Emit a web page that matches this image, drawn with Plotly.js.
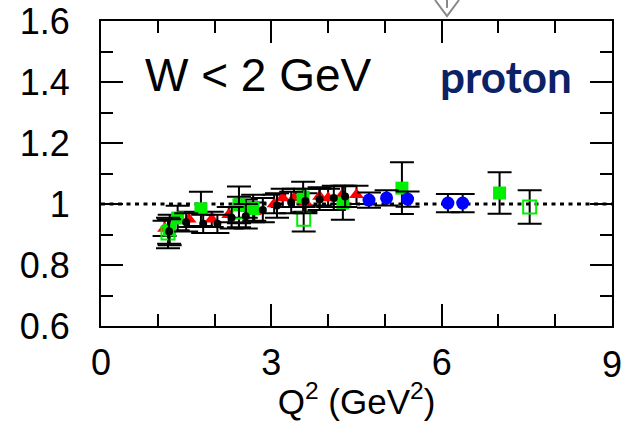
<!DOCTYPE html>
<html>
<head>
<meta charset="utf-8">
<script src="https://cdn.plot.ly/plotly-3.0.1.min.js"></script>
<style>
  html, body { margin: 0; padding: 0; background: #fff; }
  #chart { width: 621px; height: 421px; }
</style>
</head>
<body>
<div id="chart"></div>
<script>
// Ratio vs Q^2 for the proton, W < 2 GeV, several data sets

// Black points
const blackQ2  = [1.2, 1.5, 1.8, 2.05, 2.3, 2.55, 2.85, 3.1, 3.35, 3.6, 3.85, 4.1, 4.3];
const blackR   = [0.91, 0.94, 0.935, 0.935, 0.955, 0.96, 0.98, 0.995, 1.005, 1.01, 1.015, 1.02, 1.025];
const blackErr = [0.04, 0.03, 0.03, 0.03, 0.035, 0.04, 0.04, 0.04, 0.035, 0.04, 0.035, 0.04, 0.035];

// Red triangles
const redQ2  = [1.12, 1.55, 1.95, 2.25, 2.55, 2.7, 3.05, 3.2, 3.4, 3.6, 3.85, 4.0, 4.25, 4.5];
const redR   = [0.92, 0.95, 0.95, 0.965, 0.985, 0.975, 1.0, 1.02, 1.02, 1.005, 1.025, 1.02, 1.03, 1.03];
const redErr = [0.025, 0.025, 0.025, 0.025, 0.03, 0.03, 0.03, 0.03, 0.03, 0.03, 0.03, 0.03, 0.03, 0.03];

// Green filled squares
const greenQ2  = [1.21, 1.35, 1.76, 2.43, 2.68, 3.56, 4.26, 5.3, 7.02];
const greenR   = [0.915, 0.954, 0.984, 0.997, 0.985, 1.023, 1.003, 1.052, 1.036];
const greenErr = [0.05, 0.04, 0.056, 0.06, 0.045, 0.05, 0.055, 0.085, 0.068];

// Green open squares
const openQ2  = [1.18, 2.43, 3.57, 7.55];
const openR   = [0.905, 0.974, 0.95, 0.99];
const openErr = [0.05, 0.05, 0.04, 0.055];

// Blue circles
const blueQ2  = [4.72, 5.03, 5.4, 6.11, 6.37];
const blueR   = [1.013, 1.02, 1.016, 1.003, 1.003];
const blueErr = [0.025, 0.025, 0.025, 0.03, 0.03];

// Unity reference line
const unityQ2 = [0, 9];
const unityR  = [1, 1];

// Last x tick, drawn by hand because it runs past the page edge
const edgeTick = 9;

const errStyle = (arr) => ({
  type: 'data', array: arr, visible: true,
  color: '#000', thickness: 2, width: 12
});

const traces = [
  {
    x: unityQ2, y: unityR, mode: 'lines', hoverinfo: 'skip',
    line: { color: '#000', width: 3, dash: '4px,4.5px' }
  },
  {
    x: redQ2, y: redR, mode: 'markers', error_y: errStyle(redErr),
    marker: { symbol: 'triangle-up', size: 13, color: '#ff0000' }
  },
  {
    x: greenQ2, y: greenR, mode: 'markers', error_y: errStyle(greenErr),
    marker: { symbol: 'square', size: 13, color: '#00ee00' }
  },
  {
    x: openQ2, y: openR, mode: 'markers', error_y: errStyle(openErr),
    marker: { symbol: 'square-open', size: 13, color: '#00ee00', line: { width: 2 } }
  },
  {
    x: blueQ2, y: blueR, mode: 'markers', error_y: errStyle(blueErr),
    marker: { symbol: 'circle', size: 13, color: '#0000ff' }
  },
  {
    x: blackQ2, y: blackR, mode: 'markers', error_y: errStyle(blackErr),
    marker: { symbol: 'circle', size: 8, color: '#000' }
  }
];

const FAM = 'Liberation Sans, Arial, sans-serif';
const axisFont = { family: FAM, size: 36, color: '#000' };

const layout = {
  width: 621, height: 421,
  margin: { l: 101, r: 9, t: 21, b: 95 },
  paper_bgcolor: '#fff', plot_bgcolor: '#fff',
  showlegend: false,
  font: axisFont,
  xaxis: {
    range: [0, 9], tickvals: [0, 3, 6], ticktext: ['0', '3', '6'],
    showgrid: false, zeroline: false,
    showline: true, linecolor: '#000', linewidth: 2, mirror: 'ticks',
    ticks: 'inside', ticklen: 22, tickwidth: 2, tickcolor: '#000',
    minor: { dtick: 1, tick0: 0, ticks: 'inside', ticklen: 12, tickwidth: 2, tickcolor: '#000', showgrid: false },
    tickfont: axisFont, ticklabelstandoff: 4,
    title: { text: 'Q<sup>2</sup> (GeV<sup>2</sup>)', font: { family: FAM, size: 35, color: '#000' }, standoff: 2 }
  },
  yaxis: {
    range: [0.6, 1.6], dtick: 0.2, tick0: 0.6,
    showgrid: false, zeroline: false,
    showline: true, linecolor: '#000', linewidth: 2, mirror: 'ticks',
    ticks: 'inside', ticklen: 22, tickwidth: 2, tickcolor: '#000',
    minor: { dtick: 0.1, ticks: 'inside', ticklen: 12, tickwidth: 2, tickcolor: '#000', showgrid: false },
    tickfont: axisFont, ticklabelstandoff: 22
  },
  annotations: [
    {
      xref: 'x', yref: 'paper', x: edgeTick, y: -0.052,
      xanchor: 'center', yanchor: 'top', showarrow: false,
      text: String(edgeTick), font: axisFont
    },
    {
      xref: 'paper', yref: 'paper', x: 0.083, y: 0.823,
      xanchor: 'left', yanchor: 'middle', showarrow: false,
      text: 'W &lt; 2 GeV',
      font: { family: FAM, size: 46, color: '#000' }
    },
    {
      xref: 'paper', yref: 'paper', x: 0.66, y: 0.82,
      xanchor: 'left', yanchor: 'middle', showarrow: false,
      text: '<b>proton</b>',
      font: { family: 'Lato, Open Sans, sans-serif', size: 44, color: '#0b2266' }
    }
  ],
  shapes: [
    {
      type: 'path', xref: 'paper', yref: 'paper',
      path: 'M 0.6536 1.0689 L 0.6771 1.0164 L 0.7006 1.0689',
      line: { color: '#888', width: 2 }
    },
    {
      type: 'line', xref: 'paper', yref: 'paper',
      x0: 0.6771, x1: 0.6771, y0: 1.0689, y1: 1.043,
      line: { color: '#888', width: 2 }
    }
  ]
};

Plotly.newPlot('chart', traces, layout, { staticPlot: true, displayModeBar: false });
</script>
</body>
</html>
